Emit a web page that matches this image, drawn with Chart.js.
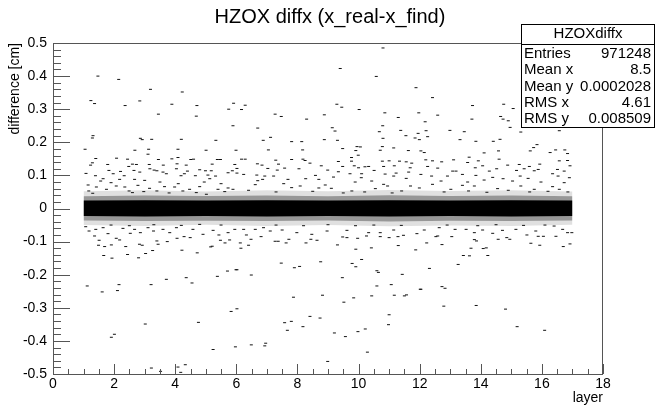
<!DOCTYPE html>
<html>
<head>
<meta charset="utf-8">
<script src="https://cdn.jsdelivr.net/npm/chart.js@4.4.1/dist/chart.umd.min.js"></script>
<style>
html,body{margin:0;padding:0;background:#fff}
</style>
</head>
<body>
<canvas id="c" width="656" height="410"></canvas>
<script>
// axis ranges / ticks
const xRange = [0, 18]
const yRange = [-0.5, 0.5]

// dense core of the distribution (x from layer 1 to 17)
const bandX = [1, 3, 5, 7, 9, 11, 13, 15, 17]
const bandTop = [0.024, 0.025, 0.024, 0.025, 0.024, 0.025, 0.024, 0.025, 0.024]
const bandBottom = [-0.023, -0.024, -0.023, -0.024, -0.023, -0.024, -0.023, -0.024, -0.023]
const haloInTop = [0.037, 0.039, 0.038, 0.039, 0.037, 0.04, 0.038, 0.039, 0.037]
const haloInBottom = [-0.036, -0.038, -0.037, -0.038, -0.036, -0.039, -0.037, -0.038, -0.036]
const haloOutTop = [0.052, 0.055, 0.051, 0.055, 0.052, 0.056, 0.053, 0.055, 0.051]
const haloOutBottom = [-0.05, -0.053, -0.049, -0.053, -0.05, -0.054, -0.051, -0.053, -0.049]

// scattered entries, [layer, difference]
const upperLeft = [[1.47,0.40],[2.15,0.39],[3.19,0.36],[4.23,0.352],[1.24,0.326],[1.36,0.317],[2.84,0.325],[2.36,0.311],
[3.89,0.315],[4.71,0.311],[5.91,0.318],[5.75,0.30],[3.45,0.285],[4.69,0.279],[5.89,0.25],[1.31,0.22],[1.29,0.213],
[2.86,0.212],[2.92,0.208],[3.23,0.209],[4.2,0.209],[5.33,0.206],[1.05,0.179],[2.68,0.176],[3.13,0.179],[4.09,0.179],
[5.01,0.176],[5.99,0.176],[3.11,0.164],[1.40,0.151],[1.29,0.138],[1.23,0.131],[2.08,0.152],[2.44,0.149],[3.45,0.148],
[3.89,0.15],[4.09,0.154],[4.51,0.148],[4.60,0.149],[5.38,0.148],[5.48,0.148],[1.79,0.133],[2.6,0.134],[2.73,0.133],
[3.15,0.133],[3.61,0.131],[4.06,0.135],[4.36,0.131],[5.21,0.134],[5.95,0.133],[1.08,0.106],[1.39,0.099],[1.83,0.115],
[1.97,0.105],[2.21,0.112],[2.33,0.099],[2.48,0.127],[2.65,0.115],[2.84,0.11],[3.17,0.12],[3.31,0.116],[3.40,0.114],
[3.6,0.11],[3.71,0.105],[4.04,0.12],[4.19,0.099],[4.30,0.105],[4.40,0.113],[4.66,0.099],[4.80,0.117],[4.99,0.114],
[5.07,0.101],[5.18,0.114],[5.32,0.098],[5.73,0.108],[5.87,0.114],
[1.64,0.09],[1.56,0.083],[2.18,0.088],[2.67,0.088],[3.0,0.085],[1.15,0.071],[1.42,0.065],[2.07,0.068],[2.35,0.065],
[2.78,0.07],[3.16,0.061],[3.65,0.066],[3.98,0.065],[4.47,0.058],[4.8,0.066],[5.13,0.09],[5.4,0.058],[5.73,0.062],
[1.17,0.053],[1.75,0.058],[2.49,0.053],[2.97,0.051],[3.4,0.053],[4.25,0.053],[4.69,0.048],[5.02,0.043],[5.62,0.051],
[5.89,0.058],[1.9,0.078],[3.5,0.08],[4.1,0.075],[4.95,0.08],[5.5,0.075],[2.6,0.048],[3.8,0.047],[1.3,0.046]]

const upperMid = [[10.80,0.485],[9.40,0.423],[10.58,0.399],[11.88,0.365],[6.29,0.312],[6.17,0.299],[9.29,0.315],
[9.45,0.306],[10.02,0.299],[10.86,0.289],[11.97,0.289],[7.27,0.285],[7.47,0.278],[8.88,0.283],[8.30,0.27],[11.30,0.275],
[10.79,0.25],[6.70,0.243],[9.14,0.244],[9.23,0.234],[10.68,0.232],[11.38,0.236],[11.95,0.227],[7.12,0.215],[6.88,0.206],
[7.81,0.202],[8.14,0.202],[8.88,0.208],[9.31,0.206],[10.80,0.212],[11.55,0.22],[11.85,0.213],[11.99,0.208],[9.95,0.187],
[10.06,0.186],[10.78,0.187],[11.15,0.183],[7.05,0.177],[8.17,0.177],[9.48,0.181],[10.71,0.176],[11.63,0.175],[9.91,0.175],
[6.17,0.149],[6.29,0.149],[7.29,0.146],[7.81,0.148],[8.18,0.149],[8.25,0.145],[9.34,0.142],[9.77,0.154],[9.99,0.161],
[10.78,0.143],[11.0,0.144],[11.34,0.143],[11.56,0.141],[11.74,0.137],[6.69,0.135],[6.84,0.131],[7.38,0.134],[8.41,0.137],
[8.78,0.129],[9.48,0.127],[9.77,0.143],[9.86,0.129],[10.0,0.123],[10.21,0.126],[10.33,0.127],[10.82,0.127],[11.17,0.129],
[11.69,0.123],[6.02,0.121],[6.02,0.107],[6.24,0.103],[7.03,0.121],[7.34,0.116],[7.58,0.122],[8.05,0.12],[8.99,0.116],
[9.34,0.111],[9.72,0.105],[10.1,0.105],[10.51,0.115],[10.87,0.104],[11.23,0.107],[11.64,0.11],[6.67,0.101],[6.93,0.098],
[7.22,0.098],[7.69,0.088],[8.59,0.1],[8.70,0.088],[8.27,0.09],[9.18,0.095],[10.09,0.093],[10.43,0.083],[11.15,0.098],
[11.56,0.091],[11.70,0.068],[6.70,0.084],[6.86,0.088],[9.89,0.08],[10.82,0.073],[6.62,0.072],[7.81,0.063],[8.09,0.068],
[8.91,0.071],[9.11,0.061],[9.78,0.053],[10.55,0.06],[10.95,0.068],[11.41,0.053],[11.99,0.062],[6.4,0.055],[7.3,0.05],
[8.5,0.052],[9.5,0.047],[10.2,0.05],[11.1,0.047],[7.55,0.075],[8.7,0.062]]

const upperRight = [[12.42,0.335],[13.73,0.311],[14.75,0.315],[15.06,0.302],[12.59,0.282],[13.71,0.27],[14.65,0.278],
[14.73,0.27],[14.9,0.265],[12.18,0.262],[14.96,0.245],[12.99,0.236],[13.46,0.232],[12.21,0.235],[15.31,0.231],[16.57,0.235],
[12.26,0.217],[13.32,0.208],[13.84,0.203],[14.41,0.203],[14.63,0.209],[15.84,0.193],[15.73,0.184],[15.62,0.174],
[16.45,0.177],[16.75,0.177],[12.04,0.174],[12.15,0.169],[14.11,0.168],[14.58,0.174],[16.27,0.169],[16.84,0.166],
[13.62,0.155],[14.60,0.149],[16.84,0.145],[16.57,0.144],[12.2,0.147],[12.42,0.144],[12.72,0.141],[13.11,0.147],
[13.57,0.139],[13.92,0.144],[14.06,0.129],[14.88,0.131],[15.26,0.133],[15.59,0.127],[15.93,0.134],[16.92,0.129],
[12.26,0.127],[12.59,0.122],[13.08,0.113],[13.19,0.113],[13.82,0.123],[14.28,0.113],[14.52,0.12],[15.17,0.115],
[15.42,0.12],[15.75,0.114],[15.88,0.118],[16.51,0.118],[16.73,0.113],[12.04,0.103],[12.39,0.098],[12.91,0.098],
[13.40,0.103],[13.84,0.1],[14.39,0.094],[14.73,0.09],[15.29,0.098],[15.55,0.091],[16.35,0.105],[16.53,0.098],[16.9,0.093],
[12.7,0.083],[13.57,0.08],[14.11,0.086],[15.04,0.083],[15.97,0.08],[16.73,0.078],[12.42,0.073],[13.02,0.058],[13.40,0.07],
[13.79,0.068],[14.55,0.06],[15.31,0.068],[15.75,0.058],[16.35,0.066],[16.57,0.058],[12.8,0.05],[13.6,0.053],[14.2,0.049],
[14.9,0.055],[15.6,0.05],[16.2,0.052],[16.85,0.05]]

const lowerLeft = [[1.12,-0.234],[1.61,-0.252],[2.16,-0.23],[2.11,-0.248],[3.21,-0.23],[3.71,-0.214],[4.36,-0.209],
[4.55,-0.225],[5.38,-0.205],[5.71,-0.189],[5.99,-0.185],[5.83,-0.311],[3.02,-0.349],[4.76,-0.344],[1.91,-0.389],
[2.01,-0.38],[5.24,-0.426],[5.97,-0.418],[3.22,-0.482],[3.52,-0.492],[4.09,-0.479],[4.33,-0.472],[4.18,-0.495],
[1.51,-0.096],[1.69,-0.115],[1.49,-0.111],[1.66,-0.142],[1.93,-0.15],[1.91,-0.11],[2.18,-0.095],[2.38,-0.115],
[2.44,-0.139],[2.80,-0.149],[2.83,-0.108],[2.92,-0.111],[3.03,-0.136],[3.26,-0.127],[3.40,-0.098],[3.44,-0.108],
[3.74,-0.1],[4.06,-0.09],[4.22,-0.126],[4.49,-0.088],[4.72,-0.134],[5.16,-0.116],[5.21,-0.114],[5.48,-0.096],
[5.43,-0.08],[5.63,-0.104],[5.78,-0.095],[1.36,-0.083],[1.80,-0.076],[2.07,-0.09],[2.53,-0.075],[2.86,-0.073],
[3.29,-0.068],[3.82,-0.073],[4.29,-0.085],[4.91,-0.078],[1.18,-0.068],[1.40,-0.063],[1.64,-0.058],[2.29,-0.06],
[2.67,-0.063],[3.11,-0.058],[3.60,-0.063],[4.04,-0.058],[4.58,-0.063],[5.24,-0.066],[5.73,-0.073],[5.95,-0.063],
[1.07,-0.055],[1.9,-0.05],[2.5,-0.052],[3.3,-0.049],[4.2,-0.051],[4.8,-0.048],[5.5,-0.05]]

const lowerMid = [[6.02,-0.185],[6.49,-0.201],[7.47,-0.165],[7.90,-0.179],[8.07,-0.175],[8.76,-0.161],[9.79,-0.166],
[9.91,-0.176],[10.10,-0.154],[9.47,-0.209],[10.60,-0.188],[10.65,-0.193],[11.43,-0.199],[11.87,-0.125],[6.02,-0.303],
[7.87,-0.268],[8.82,-0.262],[9.52,-0.283],[9.84,-0.27],[10.43,-0.264],[10.6,-0.234],[11.07,-0.23],[11.17,-0.262],
[11.5,-0.264],[11.57,-0.261],[12.02,-0.244],[8.41,-0.326],[8.74,-0.331],[7.58,-0.345],[7.80,-0.341],[7.67,-0.368],
[8.18,-0.357],[9.21,-0.376],[9.57,-0.387],[9.98,-0.372],[10.22,-0.364],[11.0,-0.321],[10.98,-0.351],[6.49,-0.412],
[6.93,-0.415],[6.96,-0.407],[10.29,-0.434],[8.99,-0.462],
[6.13,-0.104],[6.15,-0.12],[6.40,-0.111],[6.48,-0.093],[6.33,-0.08],[6.81,-0.085],[7.27,-0.099],[7.37,-0.099],
[7.63,-0.104],[7.72,-0.093],[8.28,-0.104],[8.44,-0.093],[8.64,-0.096],[9.31,-0.11],[9.48,-0.086],[9.62,-0.088],
[9.91,-0.123],[9.97,-0.09],[10.26,-0.083],[10.42,-0.119],[10.71,-0.085],[11.0,-0.088],[11.30,-0.112],[11.29,-0.085],
[11.47,-0.081],[6.62,-0.063],[7.11,-0.068],[7.50,-0.065],[7.98,-0.073],[8.47,-0.078],[8.97,-0.068],[9.62,-0.066],
[10.33,-0.073],[10.71,-0.073],[11.15,-0.065],[11.91,-0.076],[6.24,-0.063],[6.89,-0.058],[7.3,-0.05],[8.2,-0.052],
[9.0,-0.049],[9.9,-0.052],[10.5,-0.05],[11.4,-0.051]]

const lowerRight = [[12.23,-0.104],[12.32,-0.181],[12.04,-0.244],[12.73,-0.236],[12.83,-0.241],[12.79,-0.295],
[13.26,-0.169],[13.43,-0.142],[13.63,-0.143],[13.85,-0.293],[14.23,-0.142],[14.08,-0.121],[14.18,-0.119],[13.68,-0.12],
[13.79,-0.094],[14.81,-0.304],[15.19,-0.357],[16.09,-0.368],[12.73,-0.109],[12.53,-0.085],[12.59,-0.083],[13.05,-0.085],
[13.86,-0.098],[14.39,-0.075],[14.57,-0.093],[14.85,-0.088],[14.95,-0.093],[15.64,-0.105],[15.93,-0.111],[15.88,-0.084],
[16.05,-0.084],[16.46,-0.084],[16.70,-0.115],[16.92,-0.107],[16.84,-0.073],[16.98,-0.073],[12.15,-0.065],[12.64,-0.058],
[13.16,-0.063],[13.52,-0.063],[13.79,-0.073],[14.06,-0.065],[14.71,-0.066],[15.15,-0.063],[15.51,-0.08],[15.80,-0.068],
[16.40,-0.053],[16.68,-0.063],[12.9,-0.05],[13.9,-0.052],[14.5,-0.049],[15.4,-0.051],[16.1,-0.05]]

const stats = [["Entries", "971248"], ["Mean x", "8.5"], ["Mean y", "0.0002028"], ["RMS x", "4.61"], ["RMS y", "0.008509"]]

const FONT = '"Liberation Sans", Arial, Helvetica, sans-serif'

function edge(ys){
  return bandX.map((x, i) => ({x: x, y: ys[i]}))
}
function fillLine(ys, color, fill){
  return {type: "line", data: edge(ys), fill: fill, backgroundColor: color, borderWidth: 0, pointRadius: 0, tension: 0}
}

const scattered = [].concat(upperLeft, upperMid, upperRight, lowerLeft, lowerMid, lowerRight).map(p => ({x: p[0], y: p[1]}))

// ROOT style frame, inside ticks, titles and stats box
const rootDecor = {
  id: "rootDecor",
  afterDraw(chart){
    const ctx = chart.ctx
    const a = chart.chartArea
    const xs = chart.scales.x
    const ys = chart.scales.y
    ctx.save()
    ctx.strokeStyle = "#555"
    ctx.lineWidth = 1
    ctx.strokeRect(a.left + 0.5, a.top + 0.5, a.right - a.left - 1, a.bottom - a.top)

    ctx.beginPath()
    for(let k = -25; k <= 25; k++){
      const py = Math.round(ys.getPixelForValue(k * 0.02)) + 0.5
      const len = k % 5 === 0 ? 17 : 8
      ctx.moveTo(a.left, py)
      ctx.lineTo(a.left + len, py)
    }
    for(let k = 0; k <= 36; k++){
      const px = Math.round(xs.getPixelForValue(k * 0.5)) + 0.5
      const len = k % 4 === 0 ? 10 : 5
      ctx.moveTo(px, a.bottom)
      ctx.lineTo(px, a.bottom - len)
    }
    ctx.stroke()

    ctx.fillStyle = "#000"
    ctx.font = "20px " + FONT
    ctx.textAlign = "center"
    ctx.textBaseline = "middle"
    ctx.fillText("HZOX diffx (x_real-x_find)", 330, 17)

    ctx.font = "14px " + FONT
    ctx.textAlign = "right"
    ctx.fillText("layer", a.right, 398)

    ctx.save()
    ctx.translate(15, a.top)
    ctx.rotate(-Math.PI / 2)
    ctx.textAlign = "right"
    ctx.fillText("difference [cm]", 0, 0)
    ctx.restore()

    // stats box
    ctx.fillStyle = "#fff"
    ctx.fillRect(521, 24, 133, 103)
    ctx.strokeStyle = "#000"
    ctx.strokeRect(521.5, 24.5, 133, 103)
    ctx.beginPath()
    ctx.moveTo(521, 44.5)
    ctx.lineTo(654, 44.5)
    ctx.stroke()
    ctx.fillStyle = "#000"
    ctx.font = "15px " + FONT
    ctx.textAlign = "center"
    ctx.fillText("HZOXdiffx", 588, 34)
    stats.forEach((row, i) => {
      const cy = 54 + i * 16.3
      ctx.textAlign = "left"
      ctx.fillText(row[0], 524, cy)
      ctx.textAlign = "right"
      ctx.fillText(row[1], 651, cy)
    })
    ctx.restore()
  }
}

new Chart(document.getElementById("c"), {
  type: "scatter",
  data: {
    datasets: [
      {data: scattered, pointStyle: "line", pointRadius: 1.5, borderWidth: 1, borderColor: "#111", backgroundColor: "#111"},
      fillLine(bandTop, "#000", "+1"),
      fillLine(bandBottom, "#000", false),
      fillLine(haloInTop, "rgba(0,0,0,0.33)", "+1"),
      fillLine(haloInBottom, "rgba(0,0,0,0.33)", false),
      fillLine(haloOutTop, "rgba(0,0,0,0.12)", "+1"),
      fillLine(haloOutBottom, "rgba(0,0,0,0.12)", false)
    ]
  },
  options: {
    responsive: false,
    animation: false,
    layout: {padding: {top: 43, right: 53, left: 0, bottom: 0}},
    plugins: {legend: {display: false}, tooltip: {enabled: false}, title: {display: false}},
    scales: {
      x: {
        min: xRange[0], max: xRange[1],
        grid: {display: false}, border: {display: false},
        ticks: {stepSize: 2, color: "#000", padding: -6, font: {family: FONT, size: 14}, maxRotation: 0},
        afterFit(s){ s.height = 36 }
      },
      y: {
        min: yRange[0], max: yRange[1],
        grid: {display: false}, border: {display: false},
        ticks: {stepSize: 0.1, color: "#000", padding: -2, font: {family: FONT, size: 14},
          callback: v => String(Number(v.toFixed(1)))},
        afterFit(s){ s.width = 53 }
      }
    }
  },
  plugins: [rootDecor]
})
</script>
</body>
</html>
